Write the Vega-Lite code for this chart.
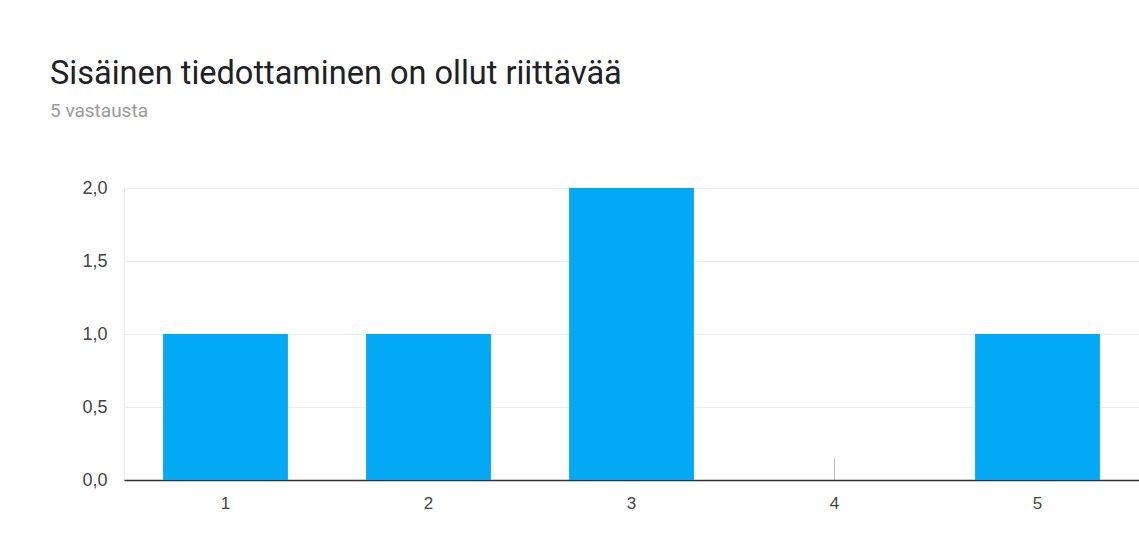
{
  "$schema": "https://vega.github.io/schema/vega-lite/v6.json",
  "width": 1015,
  "height": 292,
  "autosize": {"type": "none"},
  "padding": {"left": 124, "top": 188, "right": 0, "bottom": 73},
  "background": "#ffffff",
  "config": {
    "font": "Roboto",
    "view": {"stroke": "#ebebeb", "strokeWidth": 1}
  },
  "title": {
    "text": "Sisäinen tiedottaminen on ollut riittävää",
    "subtitle": "5 vastausta",
    "anchor": "start",
    "frame": "group",
    "dx": -74,
    "offset": 58,
    "font": "Roboto",
    "fontSize": 32.5,
    "fontWeight": "normal",
    "color": "#202124",
    "subtitleFont": "Roboto",
    "subtitleFontSize": 19,
    "subtitleColor": "#9a9a9a",
    "subtitlePadding": 12
  },
  "data": {
    "values": [
      {"vastaus": "1", "count": 1},
      {"vastaus": "2", "count": 1},
      {"vastaus": "3", "count": 2},
      {"vastaus": "4", "count": 0},
      {"vastaus": "5", "count": 1}
    ]
  },
  "layer": [
    {
      "mark": {"type": "bar", "color": "#03a9f4"},
      "encoding": {
        "x": {
          "field": "vastaus",
          "type": "ordinal",
          "scale": {"paddingInner": 0.385, "paddingOuter": 0.1925},
          "axis": {
            "title": null,
            "labelAngle": 0,
            "labelFont": "Liberation Sans",
            "labelFontSize": 17,
            "labelColor": "#444444",
            "labelPadding": 15,
            "ticks": false,
            "domainColor": "#333333",
            "domainWidth": 1.5,
            "grid": false
          }
        },
        "y": {
          "field": "count",
          "type": "quantitative",
          "scale": {"domain": [0, 2], "nice": false},
          "axis": {
            "title": null,
            "values": [0, 0.5, 1, 1.5, 2],
            "labelExpr": "replace(format(datum.value, '.1f'), '.', ',')",
            "labelFont": "Liberation Sans",
            "labelFontSize": 18,
            "labelColor": "#444444",
            "labelPadding": 17,
            "ticks": false,
            "domain": false,
            "gridColor": "#ebebeb",
            "gridWidth": 1
          }
        }
      }
    },
    {
      "transform": [{"filter": "datum.count == 0"}],
      "mark": {"type": "tick", "orient": "vertical", "size": 21, "yOffset": -10.5, "thickness": 1, "color": "#9e9e9e"},
      "encoding": {
        "x": {"field": "vastaus", "type": "ordinal"},
        "y": {"field": "count", "type": "quantitative"}
      }
    }
  ]
}
